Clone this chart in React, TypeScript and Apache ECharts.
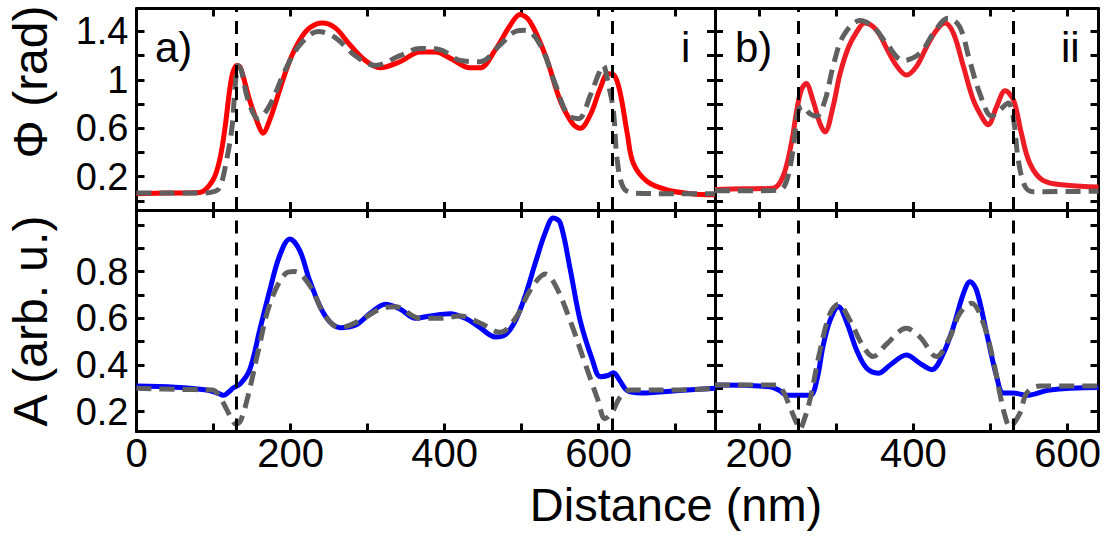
import React, { useEffect, useRef } from "react";
import * as echarts from "echarts";

// ---------- data (nm, value) ----------
// panel a) upper: phase, measured (red) and simulated (gray dashed)
const xPhiAExp = [0, 40, 82, 99, 108, 115, 121, 125, 130, 135, 147, 158, 164, 173, 186, 199, 212, 225, 241, 258, 277, 297, 316, 342, 368, 388, 407, 433, 446, 466, 485, 498, 511, 531, 550, 566, 576, 589, 602, 612, 620, 628, 637, 645, 663, 689, 720, 751];
const phiAExp = [0.06, 0.065, 0.07, 0.17, 0.34, 0.61, 0.92, 1.06, 1.12, 1.1, 0.83, 0.63, 0.56, 0.67, 0.92, 1.16, 1.33, 1.43, 1.47, 1.43, 1.29, 1.16, 1.1, 1.15, 1.23, 1.23, 1.18, 1.1, 1.1, 1.25, 1.45, 1.54, 1.48, 1.2, 0.83, 0.64, 0.6, 0.71, 0.93, 1.05, 1.04, 0.89, 0.56, 0.31, 0.16, 0.09, 0.06, 0.05];
const xPhiASim = [0, 80, 99, 108, 117, 124, 128, 132, 136, 145, 158, 173, 193, 212, 236, 258, 284, 310, 342, 368, 394, 420, 446, 472, 492, 505, 524, 544, 560, 574, 589, 600, 606, 612, 619, 624, 632, 645, 700, 751];
const phiASim = [0.065, 0.065, 0.075, 0.11, 0.34, 0.61, 0.94, 1.12, 1.08, 0.83, 0.68, 0.79, 1.08, 1.29, 1.4, 1.35, 1.2, 1.12, 1.2, 1.26, 1.25, 1.16, 1.15, 1.29, 1.4, 1.41, 1.29, 0.96, 0.71, 0.68, 0.87, 1.05, 1.12, 0.98, 0.75, 0.34, 0.11, 0.065, 0.06, 0.06];

// panel a) lower: amplitude
const xAmpAExp = [0, 50, 91, 105, 113, 120, 125, 135, 147, 160, 173, 186, 199, 212, 225, 245, 264, 284, 303, 323, 342, 362, 381, 407, 427, 446, 466, 479, 492, 505, 518, 531, 541, 550, 563, 576, 592, 602, 612, 619, 628, 637, 655, 700, 751];
const ampAExp = [0.31, 0.305, 0.293, 0.28, 0.27, 0.285, 0.3, 0.32, 0.38, 0.55, 0.72, 0.87, 0.94, 0.89, 0.76, 0.61, 0.56, 0.57, 0.62, 0.66, 0.64, 0.6, 0.61, 0.62, 0.6, 0.56, 0.52, 0.53, 0.59, 0.7, 0.84, 0.97, 1.03, 1.01, 0.81, 0.59, 0.42, 0.35, 0.355, 0.367, 0.33, 0.29, 0.28, 0.29, 0.3];
const xAmpASim = [0, 60, 99, 108, 117, 125, 129, 135, 145, 158, 173, 193, 206, 225, 245, 264, 290, 316, 336, 368, 394, 420, 446, 472, 492, 511, 531, 544, 563, 583, 599, 608, 617, 628, 641, 700, 751];
const ampASim = [0.3, 0.295, 0.293, 0.264, 0.21, 0.16, 0.146, 0.16, 0.27, 0.46, 0.66, 0.79, 0.8, 0.74, 0.61, 0.56, 0.59, 0.64, 0.65, 0.6, 0.6, 0.61, 0.58, 0.54, 0.6, 0.72, 0.79, 0.74, 0.59, 0.4, 0.25, 0.17, 0.195, 0.263, 0.293, 0.293, 0.3];

// panel b) upper: phase
const xPhiBExp = [143, 180, 218, 231, 242, 249, 255, 261, 270, 279, 285.5, 296, 305, 316, 327, 337, 352.5, 365.5, 378, 391, 404, 417, 430, 441, 452, 465, 478, 491, 497, 508, 519, 530, 540, 551, 568, 599, 640];
const phiBExp = [0.095, 0.1, 0.104, 0.2, 0.476, 0.75, 0.92, 0.97, 0.83, 0.64, 0.57, 0.78, 1.05, 1.27, 1.4, 1.47, 1.41, 1.26, 1.12, 1.04, 1.11, 1.27, 1.41, 1.47, 1.385, 1.11, 0.83, 0.67, 0.63, 0.78, 0.91, 0.83, 0.56, 0.31, 0.17, 0.13, 0.115];
const xPhiBSim = [143, 200, 227, 236, 244, 251, 257, 266, 274.5, 285.5, 296, 309, 331, 348, 365.5, 387, 408.6, 426, 445, 460, 473, 486, 501.5, 512, 523, 530, 536, 545, 555.5, 640];
const phiBSim = [0.084, 0.084, 0.09, 0.17, 0.42, 0.75, 0.78, 0.72, 0.7, 0.83, 1.11, 1.36, 1.49, 1.44, 1.3, 1.16, 1.22, 1.385, 1.51, 1.44, 1.16, 0.89, 0.7, 0.75, 0.81, 0.67, 0.34, 0.117, 0.076, 0.08];

// panel b) lower: amplitude
const xAmpBExp = [143, 214, 227, 236, 266, 275, 283, 292, 303, 314, 327, 339.6, 354.6, 370, 391, 408.6, 424, 439, 452, 465, 473.5, 482, 495, 508, 516.6, 529.5, 547, 577, 640];
const ampBExp = [0.314, 0.307, 0.29, 0.27, 0.27, 0.336, 0.48, 0.59, 0.65, 0.58, 0.46, 0.386, 0.365, 0.4, 0.443, 0.407, 0.38, 0.45, 0.564, 0.707, 0.757, 0.72, 0.536, 0.35, 0.28, 0.28, 0.27, 0.293, 0.303];
const xAmpBSim = [143, 223, 231.5, 240, 249, 253, 257, 266, 279, 292, 303, 318, 335, 348, 365.5, 391, 408.6, 430, 447.5, 460, 475.6, 490.6, 503.6, 512, 519, 525, 538, 547, 564, 640];
const ampBSim = [0.314, 0.314, 0.286, 0.22, 0.15, 0.125, 0.15, 0.25, 0.46, 0.62, 0.66, 0.59, 0.48, 0.436, 0.49, 0.557, 0.52, 0.436, 0.52, 0.62, 0.665, 0.58, 0.42, 0.28, 0.18, 0.136, 0.193, 0.28, 0.31, 0.31];

// edges (dashed verticals)
const edgesA = [129, 618];
const edgesB = [251, 530];

// ticks and labels
const xTicksA = [0, 100, 200, 300, 400, 500, 600, 700];
const xLabelsA = [0, 200, 400, 600];
const xTicksB = [200, 300, 400, 500, 600];
const xLabelsB = [200, 400, 600];
const phiTicks = [0, 0.2, 0.4, 0.6, 0.8, 1.0, 1.2, 1.4];
const phiLabels = [0.2, 0.6, 1, 1.4];
const ampTicks = [0.2, 0.3, 0.4, 0.5, 0.6, 0.7, 0.8, 0.9, 1.0];
const ampLabels = [0.2, 0.4, 0.6, 0.8];

const FONT = "'Liberation Sans', Arial, Helvetica, sans-serif";

function zip(xs: number[], ys: number[]) {
  return xs.map((x, i) => [x, ys[i]]);
}

function axis(
  kind: "x" | "y",
  gridIndex: number,
  position: string,
  min: number,
  max: number,
  ticks: number[],
  labels: number[] | null
) {
  return {
    type: "value",
    gridIndex,
    position,
    min,
    max,
    axisLine: { show: true, onZero: false, lineStyle: { color: "#000", width: 3 } },
    axisTick: {
      show: true,
      inside: true,
      length: 8,
      customValues: ticks,
      lineStyle: { color: "#000", width: 3 },
    },
    axisLabel: labels
      ? {
          show: true,
          customValues: labels,
          color: "#000",
          fontFamily: FONT,
          fontSize: kind === "x" ? 40 : 38,
          margin: kind === "x" ? 1.5 : 8,
          formatter: (v: number) => String(Math.round(v * 100) / 100),
        }
      : { show: false },
    splitLine: { show: false },
  };
}

function vlines(edges: number[]) {
  return {
    silent: true,
    symbol: ["none", "none"],
    label: { show: false },
    emphasis: { disabled: true },
    lineStyle: { color: "#000", width: 3, type: [13, 9] },
    data: edges.map((v) => ({ xAxis: v })),
  };
}

function line(
  name: string,
  xi: number,
  yi: number,
  data: number[][],
  color: string,
  dashed: boolean,
  edges?: number[]
) {
  const s: any = {
    name,
    type: "line",
    xAxisIndex: xi,
    yAxisIndex: yi,
    data,
    smooth: 0.35,
    showSymbol: false,
    symbol: "none",
    lineStyle: { color, width: 5, type: dashed ? [15, 8] : "solid" },
    z: dashed ? 4 : 3,
  };
  if (edges) s.markLine = vlines(edges);
  return s;
}

export default function App() {
  const ref = useRef<HTMLDivElement>(null);
  useEffect(() => {
    document.body.style.margin = "0";
    if (!ref.current) return;
    const chart = echarts.init(ref.current, null, { renderer: "svg" });
    const gA = { left: 136.5, top: 8.5, width: 578.5, height: 201.5, outerBoundsMode: "none" };
    const gB = { left: 715, top: 8.5, width: 383.5, height: 201.5, outerBoundsMode: "none" };
    const gC = { left: 136.5, top: 210, width: 578.5, height: 221.5, outerBoundsMode: "none" };
    const gD = { left: 715, top: 210, width: 383.5, height: 221.5, outerBoundsMode: "none" };
    const xA: [number, number] = [0, 751];
    const xB: [number, number] = [143, 640];
    const yPhi: [number, number] = [-0.075, 1.59];
    const yAmp: [number, number] = [0.115, 1.064];
    const option: any = {
      animation: false,
      backgroundColor: "#fff",
      grid: [gA, gB, gC, gD],
      xAxis: [
        axis("x", 0, "bottom", xA[0], xA[1], xTicksA, null),
        axis("x", 0, "top", xA[0], xA[1], xTicksA, null),
        axis("x", 1, "bottom", xB[0], xB[1], xTicksB, null),
        axis("x", 1, "top", xB[0], xB[1], xTicksB, null),
        axis("x", 2, "bottom", xA[0], xA[1], xTicksA, xLabelsA),
        axis("x", 2, "top", xA[0], xA[1], xTicksA, null),
        axis("x", 3, "bottom", xB[0], xB[1], xTicksB, xLabelsB),
        axis("x", 3, "top", xB[0], xB[1], xTicksB, null),
      ],
      yAxis: [
        axis("y", 0, "left", yPhi[0], yPhi[1], phiTicks, phiLabels),
        axis("y", 0, "right", yPhi[0], yPhi[1], phiTicks, null),
        axis("y", 1, "left", yPhi[0], yPhi[1], phiTicks, null),
        axis("y", 1, "right", yPhi[0], yPhi[1], phiTicks, null),
        axis("y", 2, "left", yAmp[0], yAmp[1], ampTicks, ampLabels),
        axis("y", 2, "right", yAmp[0], yAmp[1], ampTicks, null),
        axis("y", 3, "left", yAmp[0], yAmp[1], ampTicks, null),
        axis("y", 3, "right", yAmp[0], yAmp[1], ampTicks, null),
      ],
      series: [
        line("phi a exp", 0, 0, zip(xPhiAExp, phiAExp), "#ff0000", false, edgesA),
        line("phi a sim", 0, 0, zip(xPhiASim, phiASim), "#606060", true),
        line("phi b exp", 2, 2, zip(xPhiBExp, phiBExp), "#ee1c24", false, edgesB),
        line("phi b sim", 2, 2, zip(xPhiBSim, phiBSim), "#606060", true),
        line("amp a exp", 4, 4, zip(xAmpAExp, ampAExp), "#0000ff", false, edgesA),
        line("amp a sim", 4, 4, zip(xAmpASim, ampASim), "#606060", true),
        line("amp b exp", 6, 6, zip(xAmpBExp, ampBExp), "#0000ff", false, edgesB),
        line("amp b sim", 6, 6, zip(xAmpBSim, ampBSim), "#606060", true),
      ],
      graphic: [
        { type: "text", left: 155, top: 26, style: { text: "a)", font: `42px ${FONT}`, fill: "#000" } },
        { type: "text", left: 681, top: 26, style: { text: "i", font: `42px ${FONT}`, fill: "#000" } },
        { type: "text", left: 735, top: 26, style: { text: "b)", font: `42px ${FONT}`, fill: "#000" } },
        { type: "text", left: 1061, top: 26, style: { text: "ii", font: `42px ${FONT}`, fill: "#000" } },
        {
          type: "text",
          x: 30,
          y: 82,
          rotation: Math.PI / 2,
          style: { text: "Φ (rad)", font: `48px ${FONT}`, fill: "#000", align: "center", verticalAlign: "middle" },
        },
        {
          type: "text",
          x: 30,
          y: 321,
          rotation: Math.PI / 2,
          style: { text: "A (arb. u.)", font: `48px ${FONT}`, fill: "#000", align: "center", verticalAlign: "middle" },
        },
        {
          type: "text",
          x: 676,
          y: 504,
          style: { text: "Distance (nm)", font: `47px ${FONT}`, fill: "#000", align: "center", verticalAlign: "middle" },
        },
      ],
    };
    chart.setOption(option);
    return () => chart.dispose();
  }, []);
  return <div ref={ref} style={{ width: 1110, height: 543 }} />;
}
